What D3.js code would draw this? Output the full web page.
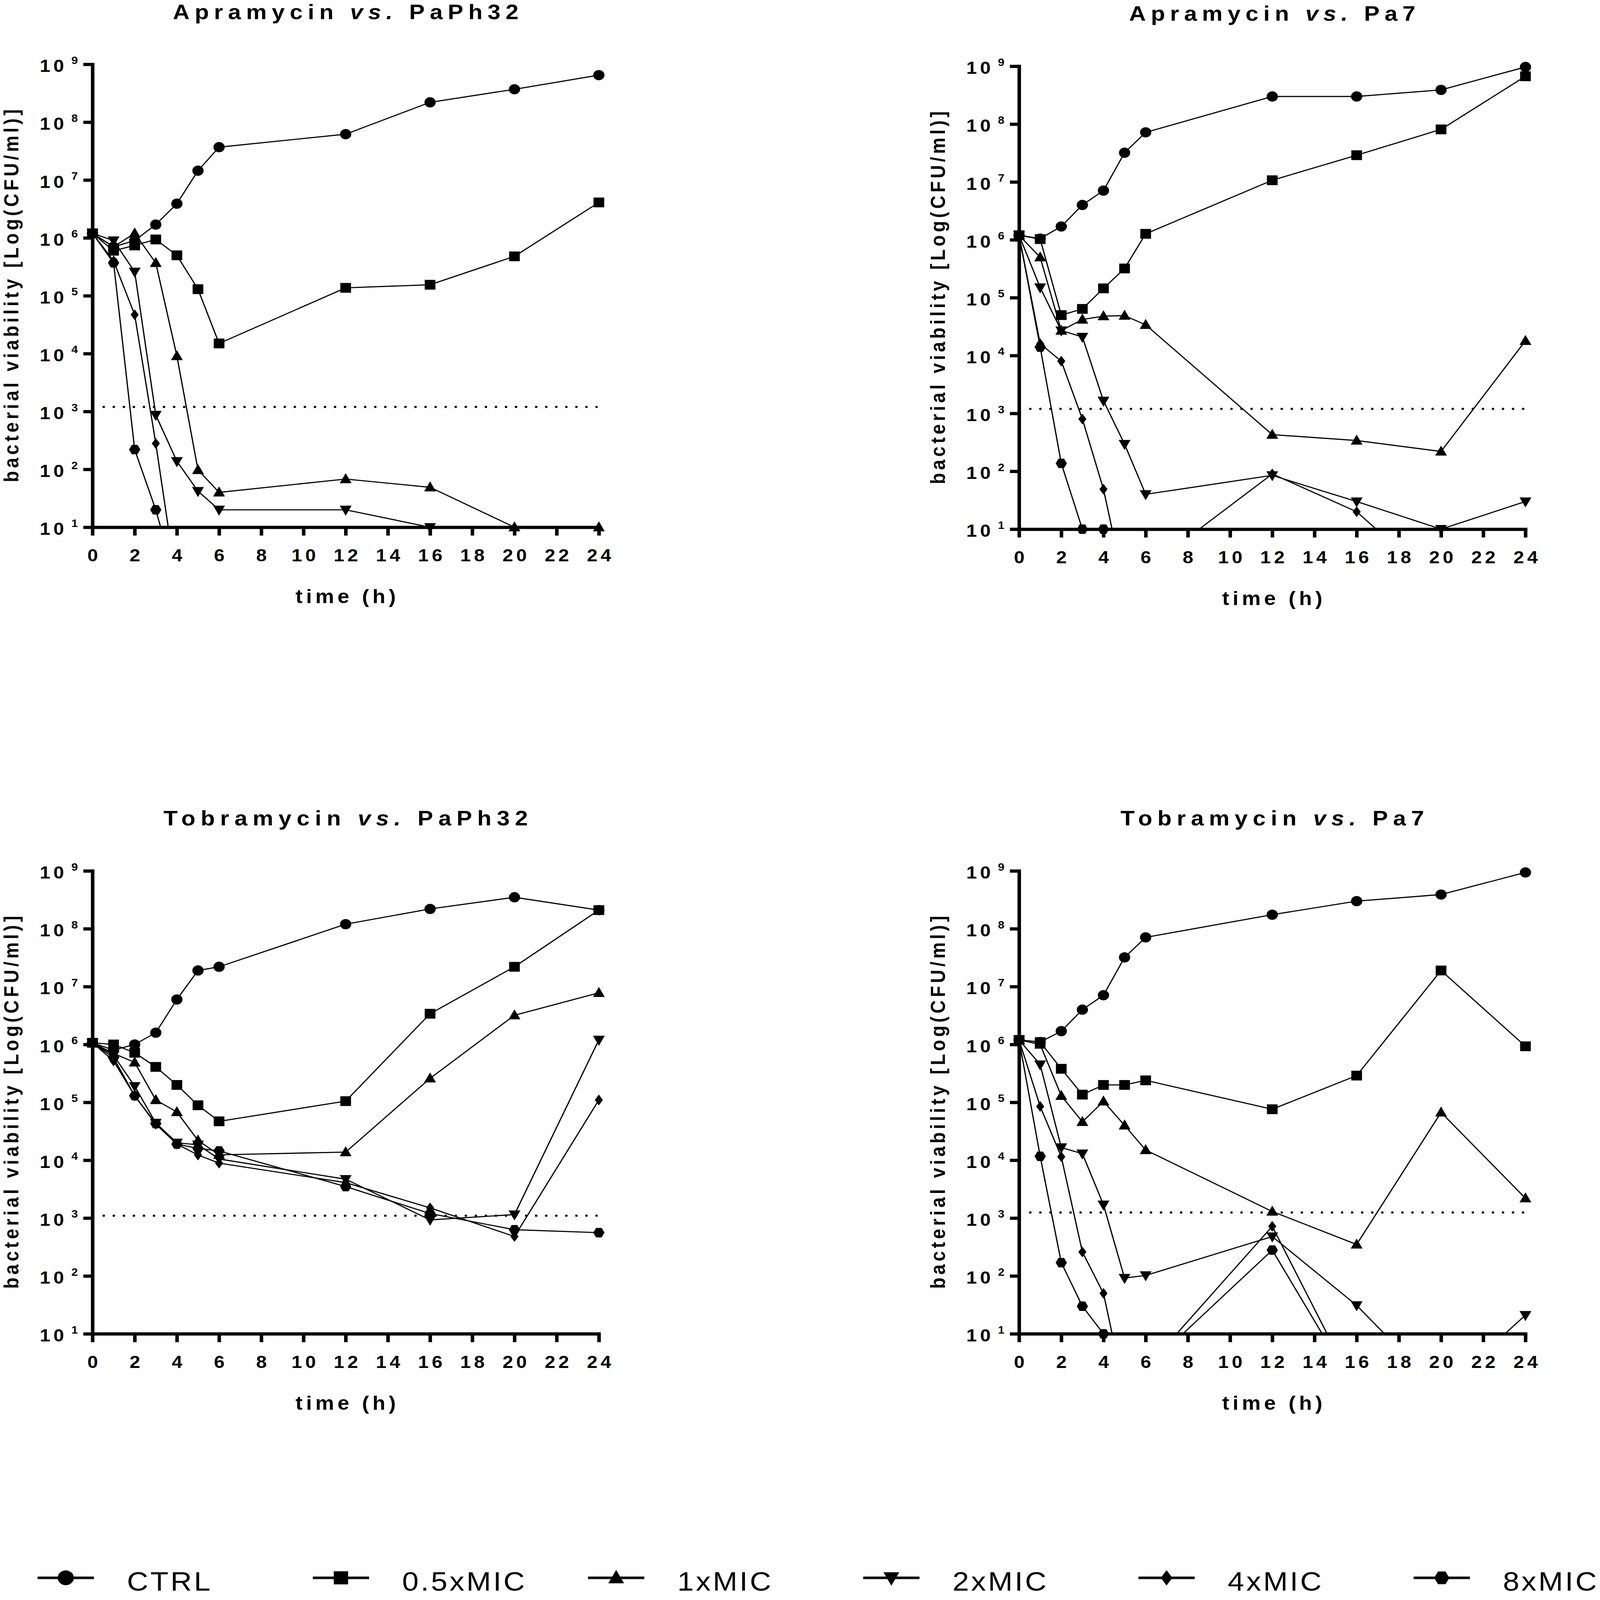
<!DOCTYPE html>
<html>
<head>
<meta charset="utf-8">
<script src="https://cdn.jsdelivr.net/npm/d3@7"></script>
<style>
  html, body { margin: 0; padding: 0; background: #fff; overflow: hidden; }
  svg { display: block; width: 100vw; height: 100vh; }
  text { font-family: "Liberation Sans", Arial, sans-serif; fill: #000; }
</style>
</head>
<body>
<script>
// sampling times (h) and series names
var times = [0, 1, 2, 3, 4, 5, 6, 12, 16, 20, 24];
var seriesNames = ['CTRL', '0.5xMIC', '1xMIC', '2xMIC', '4xMIC', '8xMIC'];
var xTicks = [0, 2, 4, 6, 8, 10, 12, 14, 16, 18, 20, 22, 24];
var yTickExps = [1, 2, 3, 4, 5, 6, 7, 8, 9];

var titleDrugs = ['Apramycin', 'Apramycin', 'Tobramycin', 'Tobramycin'];
var titleStrains = ['PaPh32', 'Pa7', 'PaPh32', 'Pa7'];
// dotted line (3 log reduction of inoculum)
var lodLevels = [1.2e3, 1.2e3, 1.1e3, 1.25e3];

// CFU/ml, one row per series; 1 = under the axis (not shown)
var apraPaPh32 = [
    [1.2e6, 7e5, 9e5, 1.7e6, 3.9e6, 1.45e7, 3.7e7, 6.2e7, 2.2e8, 3.7e8, 6.5e8],
    [1.2e6, 6e5, 7.4e5, 9.4e5, 5e5, 1.3e5, 1.5e4, 1.37e5, 1.55e5, 4.8e5, 4.1e6],
    [1.2e6, 7e5, 1.2e6, 3.7e5, 9.1e3, 98, 40, 68, 49, 10, 10],
    [1.2e6, 9e5, 2.6e5, 870, 138, 42, 20, 20, 10, 1, 1],
    [1.2e6, 4e5, 4.7e4, 280, 1, 1, 1, 1, 1, 1, 1],
    [1.2e6, 3.7e5, 220, 20, 1, 1, 1, 1, 1, 1, 1]
];
var apraPa7 = [
    [1.2e6, 1.05e6, 1.7e6, 4e6, 7.1e6, 3.2e7, 7.2e7, 3e8, 3e8, 3.9e8, 9.7e8],
    [1.2e6, 1.03e6, 5e4, 6.4e4, 1.45e5, 3.2e5, 1.27e6, 1.07e7, 2.9e7, 8.1e7, 6.7e8],
    [1.2e6, 5e5, 2.7e4, 4.2e4, 4.8e4, 4.9e4, 3.4e4, 430, 340, 220, 1.8e4],
    [1.2e6, 1.5e5, 2.7e4, 2.1e4, 1.65e3, 295, 40, 85, 30, 10, 30],
    [1.2e6, 1.6e4, 8e3, 800, 49, 1, 2, 90, 20, 1, 1],
    [1.2e6, 1.4e4, 137, 10, 10, 1, 1, 1, 1, 1, 1]
];
var tobraPaPh32 = [
    [1.07e6, 8e5, 1e6, 1.6e6, 6e6, 1.9e7, 2.2e7, 1.2e8, 2.2e8, 3.5e8, 2.1e8],
    [1.07e6, 1e6, 7.2e5, 4.1e5, 2e5, 8.9e4, 4.7e4, 1.05e5, 3.4e6, 2.2e7, 2.1e8],
    [1.07e6, 7e5, 4.9e5, 1.1e5, 6.8e4, 2.2e4, 1.24e4, 1.38e4, 2.6e5, 3.2e6, 7.8e6],
    [1.07e6, 6.5e5, 1.9e5, 4.4e4, 2e4, 1.85e4, 1.05e4, 4.7e3, 930, 1.15e3, 1.2e6],
    [1.07e6, 5.2e5, 1.3e5, 4.2e4, 1.9e4, 1.23e4, 8.9e3, 4.1e3, 1.5e3, 480, 1.1e5],
    [1.07e6, 5.9e5, 1.3e5, 4.3e4, 1.9e4, 1.6e4, 1.45e4, 3.5e3, 1.2e3, 630, 560]
];
var tobraPa7 = [
    [1.2e6, 1.1e6, 1.7e6, 4e6, 7.1e6, 3.2e7, 7.1e7, 1.75e8, 3e8, 3.9e8, 9.4e8],
    [1.2e6, 1.1e6, 3.8e5, 1.36e5, 2e5, 2e5, 2.4e5, 7.6e4, 2.9e5, 1.9e7, 9.3e5],
    [1.2e6, 1e6, 1.3e5, 4.6e4, 1.04e5, 4e4, 1.5e4, 1.3e3, 350, 6.7e4, 2.2e3],
    [1.2e6, 4.5e5, 1.66e4, 1.3e4, 1.7e3, 92, 102, 480, 31, 1, 21],
    [1.2e6, 8.5e4, 1.15e4, 260, 50, 1, 2.5, 720, 1, 1, 1],
    [1.2e6, 1.17e4, 170, 30, 10, 1, 2.5, 280, 1, 1, 1]
];
var panelData = [apraPaPh32, apraPa7, tobraPaPh32, tobraPa7];

// marker shapes (size = r*r)
function shape(pts) {
    return {
        draw: function (ctx, s) {
            var r = Math.sqrt(s);
            ctx.moveTo(pts[0][0] * r, pts[0][1] * r);
            for (var k = 1; k < pts.length; k++) ctx.lineTo(pts[k][0] * r, pts[k][1] * r);
            ctx.closePath();
        }
    };
}
var symbolTypes = [
    { draw: function (ctx, s) { var r = Math.sqrt(s); ctx.moveTo(r, 0); ctx.arc(0, 0, r, 0, 2 * Math.PI); } },
    shape([[-0.95, -0.95], [0.95, -0.95], [0.95, 0.95], [-0.95, 0.95]]),
    shape([[0, -1.15], [1.05, 0.8], [-1.05, 0.8]]),
    shape([[0, 1.15], [1.05, -0.8], [-1.05, -0.8]]),
    shape([[0, -1.2], [0.82, 0], [0, 1.2], [-0.82, 0]]),
    shape([[-1, 0], [-0.5, -0.92], [0.5, -0.92], [1, 0], [0.5, 0.92], [-0.5, 0.92]])
];

var W = 4550, H = 4977;
var plotW = 1440, plotH = 1440;
var panelX = [263, 2898, 263, 2898];
var panelY = [200, 206, 2709, 2709];
var titleLen = [983, 814, 1036, 863];

// viewBox so the whole figure fits whatever viewport we get
var svg = d3.select('body').append('svg')
    .attr('viewBox', '0 0 ' + W + ' ' + H)
    .attr('preserveAspectRatio', 'none');
svg.append('rect').attr('width', W).attr('height', H).attr('fill', '#fff');

panelData.forEach(function (rows, p) {
    var x0 = panelX[p], yT = panelY[p];
    var x = d3.scaleLinear().domain([0, 24]).range([x0, x0 + plotW]);
    var y = d3.scaleLog().domain([10, 1e9]).range([yT + plotH, yT]);
    var g = svg.append('g');

    g.append('clipPath').attr('id', 'clip' + p)
        .append('rect')
        .attr('x', x0 - 30).attr('y', yT - 30)
        .attr('width', plotW + 60).attr('height', plotH + 30);

    // title
    var title = g.append('text')
        .attr('x', x0 + plotW / 2)
        .attr('y', yT - 141)
        .attr('text-anchor', 'middle')
        .attr('font-size', 66)
        .attr('font-weight', 'bold')
        .attr('textLength', titleLen[p])
        .attr('lengthAdjust', 'spacing');
    title.append('tspan').text(titleDrugs[p] + ' ');
    title.append('tspan').attr('font-style', 'italic').text('vs.');
    title.append('tspan').text(' ' + titleStrains[p]);

    // dotted line
    g.append('line')
        .attr('x1', x(0) + 32).attr('x2', x(24) + 7)
        .attr('y1', y(lodLevels[p])).attr('y2', y(lodLevels[p]))
        .attr('stroke', '#000')
        .attr('stroke-width', 7)
        .attr('stroke-linecap', 'round')
        .attr('stroke-dasharray', '0 28.6');

    // series lines
    var line = d3.line()
        .x(function (d) { return x(d[0]); })
        .y(function (d) { return y(d[1]); });
    rows.forEach(function (vals, s) {
        var pts = vals.map(function (v, i) { return [times[i], v]; });
        g.append('path')
            .attr('d', line(pts))
            .attr('fill', 'none')
            .attr('stroke', '#000')
            .attr('stroke-width', 3.5)
            .attr('stroke-linejoin', 'round')
            .attr('clip-path', 'url(#clip' + p + ')');
    });

    // axes
    var xAxis = g.append('g')
        .attr('transform', 'translate(0,' + (yT + plotH) + ')')
        .call(d3.axisBottom(x).tickValues(xTicks).tickSize(26).tickSizeOuter(0).tickPadding(42));
    var yAxis = g.append('g')
        .attr('transform', 'translate(' + x0 + ',0)')
        .call(d3.axisLeft(y).tickValues(yTickExps.map(function (e) { return Math.pow(10, e); }))
            .tickSize(26).tickSizeOuter(0).tickFormat(''));
    [xAxis, yAxis].forEach(function (a) {
        a.attr('font-family', null).attr('font-size', null);
        a.select('.domain').attr('stroke-width', 10).attr('stroke-linecap', 'square');
        a.selectAll('.tick line').attr('stroke-width', 10);
    });
    xAxis.selectAll('.tick text')
        .attr('font-size', 54)
        .attr('font-weight', 'bold')
        .attr('letter-spacing', 9)
        .attr('dx', 4.5);

    // y tick labels 10^n
    yTickExps.forEach(function (e) {
        var ty = y(Math.pow(10, e));
        g.append('text')
            .attr('x', x0 - 150).attr('y', ty + 24)
            .attr('font-size', 54).attr('font-weight', 'bold')
            .attr('letter-spacing', 9)
            .text('10');
        g.append('text')
            .attr('x', x0 - 60).attr('y', ty - 1)
            .attr('font-size', 33).attr('font-weight', 'bold')
            .text(e);
    });

    // markers
    rows.forEach(function (vals, s) {
        var sym = d3.symbol().type(symbolTypes[s]).size(s === 4 ? 196 : 256);
        vals.forEach(function (v, i) {
            if (v < 10) return;
            g.append('path')
                .attr('d', sym())
                .attr('transform', 'translate(' + x(times[i]) + ',' + y(v) + ')')
                .attr('fill', '#000');
        });
    });

    // axis titles
    g.append('text')
        .attr('x', x0 + plotW / 2)
        .attr('y', yT + plotH + 236)
        .attr('text-anchor', 'middle')
        .attr('font-size', 60).attr('font-weight', 'bold')
        .attr('textLength', 285).attr('lengthAdjust', 'spacing')
        .text('time (h)');
    g.append('text')
        .attr('transform', 'translate(' + (x0 - 211) + ',' + (yT + plotH / 2) + ') rotate(-90)')
        .attr('text-anchor', 'middle')
        .attr('font-size', 57).attr('font-weight', 'bold')
        .attr('textLength', 1160).attr('lengthAdjust', 'spacing')
        .text('bacterial viability [Log(CFU/ml)]');
});

// legend
var legY = 4908;
var leg = svg.selectAll('.legend').data(seriesNames).enter()
    .append('g')
    .attr('class', 'legend')
    .attr('transform', function (d, i) { return 'translate(' + (187 + i * 782.6) + ',' + legY + ')'; });
leg.append('line')
    .attr('x1', -80).attr('x2', 80)
    .attr('stroke', '#000').attr('stroke-width', 8);
leg.append('path')
    .attr('d', function (d, i) { return d3.symbol().type(symbolTypes[i]).size(i === 0 ? 529 : (i === 4 ? 400 : 460))(); })
    .attr('fill', '#000');
leg.append('text')
    .attr('x', 174).attr('y', 40)
    .attr('font-size', 84)
    .attr('letter-spacing', 6)
    .text(function (d) { return d; });
</script>
</body>
</html>
